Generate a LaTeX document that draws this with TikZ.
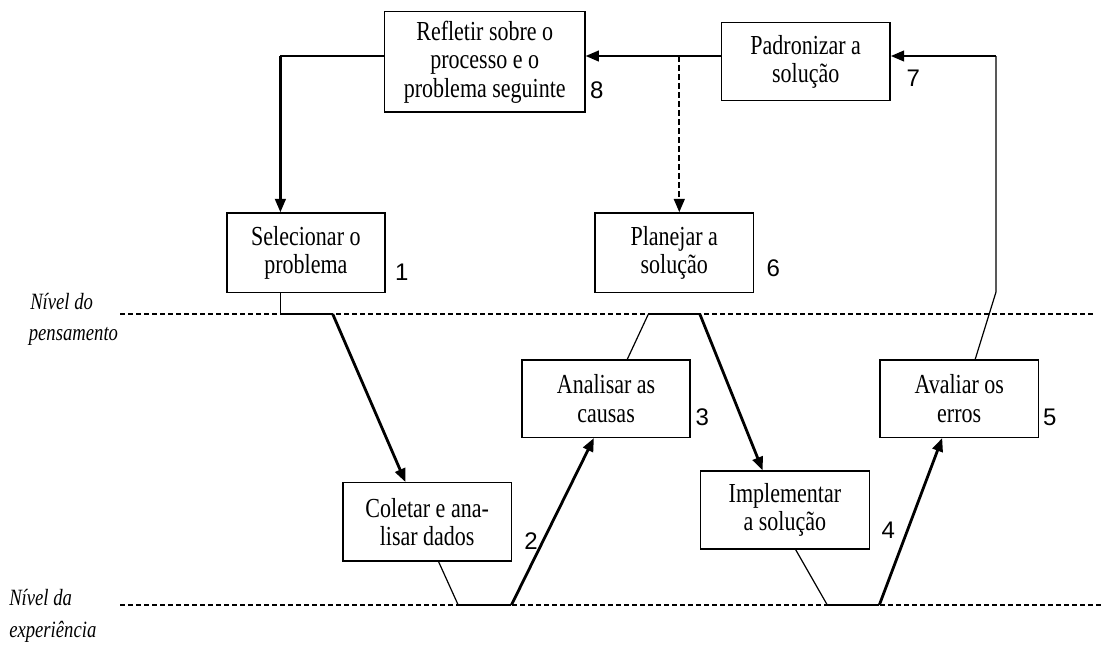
\documentclass[tikz,border=0pt]{standalone}
\usepackage{graphicx}
\usepackage{fontspec}
\setmainfont{Liberation Serif}
\newfontfamily\digitfont{Liberation Sans}
\usetikzlibrary{arrows.meta,calc}
% slightly tall lettering, as in the printed cycle
\newcommand\tallline[1]{\scalebox{1}[1.25]{#1}}

\begin{document}
\begin{tikzpicture}[x=0.75pt,y=-0.75pt,
  stage/.style={draw, line width=1.1pt, inner sep=0pt, align=center,
    font=\fontsize{16.5}{21.4}\selectfont},
  num/.style={inner sep=0pt, font=\digitfont\fontsize{18}{18}\selectfont},
  lvl/.style={inner sep=0pt, anchor=base west, font=\itshape\fontsize{14}{14}\selectfont},
  tip/.style={-{Triangle[length=10pt,width=8pt]}},
  fine/.style={line width=0.9pt},
  link/.style={line width=1.1pt},
  ledge/.style={line width=1.8pt},
  flow/.style={line width=2.1pt, tip},
  feed/.style={line width=1.7pt, tip},
  plandash/.style={line width=1.7pt, dash pattern=on 4.5pt off 2.25pt, tip},
  level/.style={line width=1.7pt, dash pattern=on 3.75pt off 2.25pt}]

\useasboundingbox (0,0) rectangle (1103,644);

% the two levels
\draw[level] (120.4,314) -- (1093,314);
\draw[level] (120.4,605) -- (1103,605);
\node[lvl] (lvlTa) at (30,309) {\tallline{Nível do}};
\node[lvl] (lvlTb) at (28.6,340) {\tallline{pensamento}};
\node[lvl] (lvlEa) at (9,605) {\tallline{Nível da}};
\node[lvl] (lvlEb) at (9,637) {\tallline{experiência}};

% the eight stages
\node[stage, minimum width=150.2pt, minimum height=75.2pt] (refl) at (484.75,61.85)
  {\tallline{Refletir sobre o}\\\tallline{processo e o}\\\tallline{problema seguinte}};
\node[stage, minimum width=126.6pt, minimum height=58.5pt] (padr) at (805.7,61.7)
  {\tallline{Padronizar a}\\\tallline{solução}};
\node[stage, minimum width=118.7pt, minimum height=59.5pt] (selec) at (305.9,252.65)
  {\tallline{Selecionar o}\\\tallline{problema}};
\node[stage, minimum width=119pt, minimum height=59.5pt] (plan) at (674.25,252.65)
  {\tallline{Planejar a}\\\tallline{solução}};
\node[stage, minimum width=126pt, minimum height=58pt] (anal) at (606.1,398.65)
  {\tallline{Analisar as}\\\tallline{causas}};
\node[stage, minimum width=118.8pt, minimum height=58pt] (aval) at (959.2,398.65)
  {\tallline{Avaliar os}\\\tallline{erros}};
\node[stage, minimum width=126.4pt, minimum height=58.7pt] (colet) at (427.15,521.85)
  {\tallline{Coletar e ana-}\\\tallline{lisar dados}};
\node[stage, minimum width=126.6pt, minimum height=58.5pt] (impl) at (784.9,510)
  {\tallline{Implementar}\\\tallline{a solução}};

% step numbers
\node[num] (n1) at (401.8,272) {1};
\node[num] (n2) at (531,540.7) {2};
\node[num] (n3) at (702.3,417) {3};
\node[num] (n4) at (888.3,530) {4};
\node[num] (n5) at (1049.9,417) {5};
\node[num] (n6) at (773.4,268) {6};
\node[num] (n7) at (913.4,78) {7};
\node[num] (n8) at (596.7,90) {8};

% junction points
\coordinate (ylink) at (0,56);
\coordinate (c0) at (280.4,56);
\coordinate (j1) at (280.4,314);
\coordinate (j1b) at (332.7,314);
\coordinate (j2) at (458.2,605);
\coordinate (j2b) at (511.4,605);
\coordinate (j3) at (648.4,314);
\coordinate (j3b) at (699.8,314);
\coordinate (j4) at (827.3,605);
\coordinate (j4b) at (879.3,605);
\coordinate (j5) at (996,292);
\coordinate (j5t) at (996,56);
\coordinate (split) at (679.3,56);

% 8 -> 1
\draw[link] (refl.west |- ylink) -- (c0);
\draw[feed] (c0) -- (selec.north -| c0);
% 1 -> 2
\draw[fine] (selec.south -| j1) -- (j1);
\draw[ledge] (j1) -- (j1b);
\draw[flow] (j1b) -- ($(colet.north)+(-21.75,0)$);
% 2 -> 3
\draw[fine] ($(colet.south)+(11.45,0)$) -- (j2);
\draw[ledge] (j2) -- (j2b);
\draw[flow] (j2b) -- ($(anal.south)+(-12.2,0)$);
% 3 -> 4
\draw[fine] ($(anal.north)+(21.2,0)$) -- (j3);
\draw[ledge] (j3) -- (j3b);
\draw[flow] (j3b) -- ($(impl.north)+(-22.3,0)$);
% 4 -> 5
\draw[fine] ($(impl.south)+(10.8,0)$) -- (j4);
\draw[ledge] (j4) -- (j4b);
\draw[flow] (j4b) -- ($(aval.south)+(-17,0)$);
% 5 -> 7
\draw[fine] ($(aval.north)+(16,0)$) -- (j5) -- (j5t);
\draw[feed] (j5t) -- (padr.east |- ylink);
% 7 -> 8, and back to 6
\draw[feed] (padr.west |- ylink) -- (refl.east |- ylink);
\draw[plandash] (split) -- (plan.north -| split);
\end{tikzpicture}
\end{document}
